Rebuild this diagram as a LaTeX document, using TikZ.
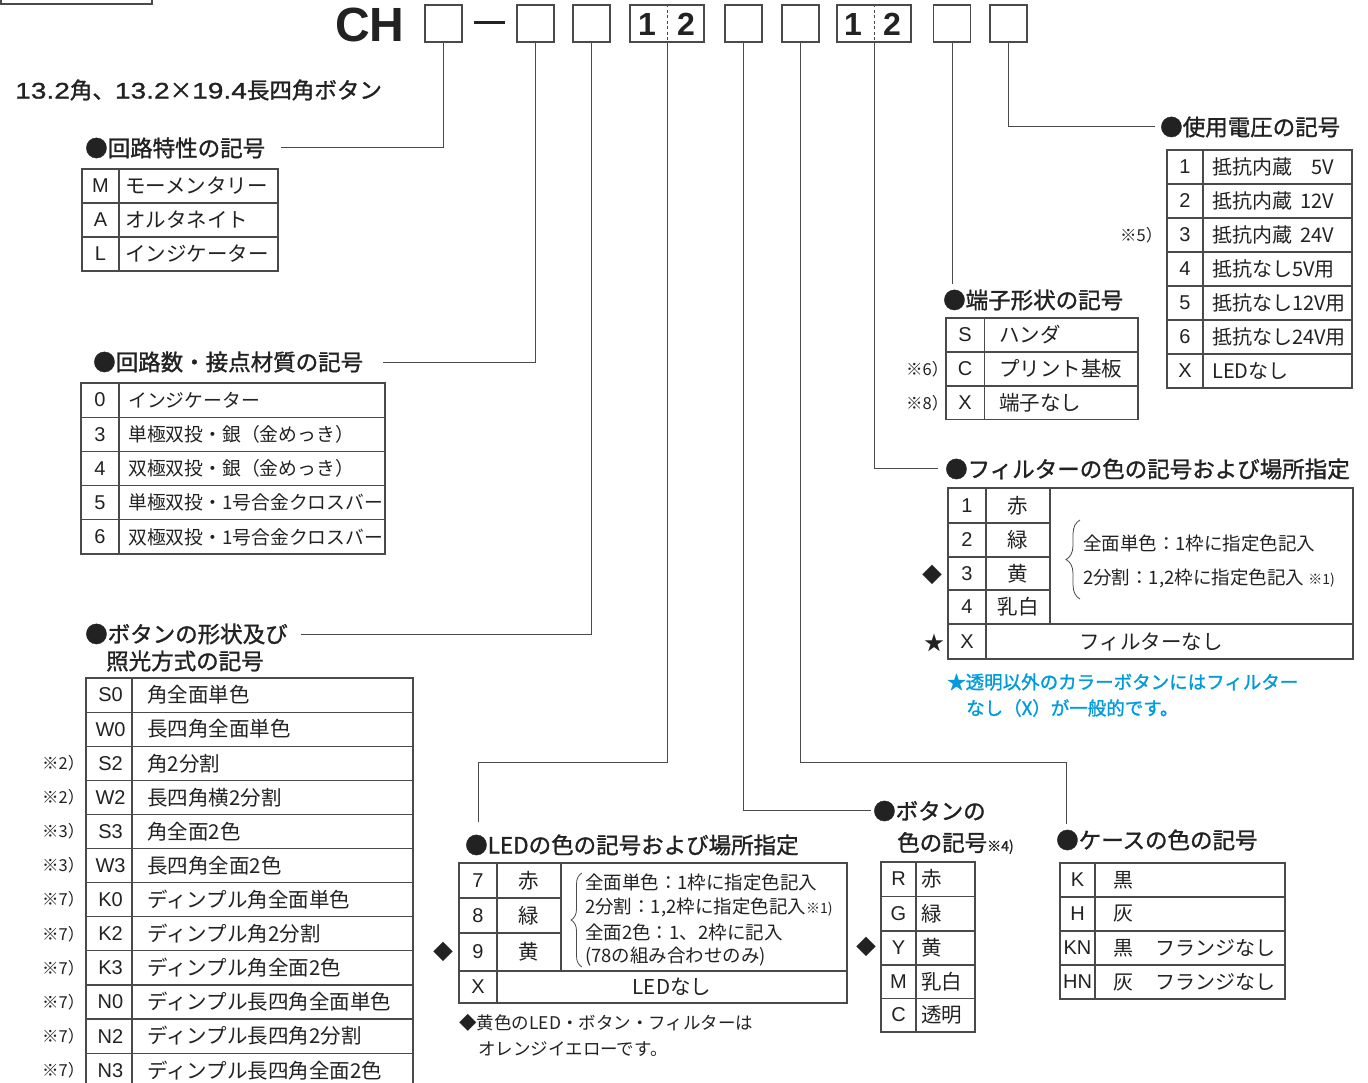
\documentclass[tikz,border=0pt]{standalone}
\usepackage{fontspec}
\setmainfont{Noto Sans CJK JP}
\newfontfamily\lat{Liberation Sans}
\newfontfamily\med[FakeBold=1.3]{Noto Sans CJK JP}
\newfontfamily\latmed[FakeBold=1.0]{Liberation Sans}
\usetikzlibrary{decorations.pathreplacing}
\newcommand\fsz[1]{\fontsize{#1}{#1}\selectfont}
\newcommand\widenum[1]{\scalebox{1.25}[1]{\latmed #1}}
\definecolor{ink}{HTML}{222222}
\definecolor{rulec}{HTML}{4A4A4A}
\definecolor{notecol}{RGB}{0,155,220}
\begin{document}
\begin{tikzpicture}[x=1pt,y=-1pt,
  tbl/.style={draw=rulec,line width=1.2pt},
  conn/.style={draw=rulec,line width=1pt},
  codebox/.style={draw=rulec,line width=1.2pt,minimum width=37pt,minimum height=37pt,inner sep=0},
  cd/.style={inner sep=0,text=ink,font=\lat\fsz{20}},
  tx/.style={inner sep=0,anchor=west,text=ink,font=\fsz{20.5}},
  tc/.style={inner sep=0,text=ink,font=\fsz{20.5}},
  ttl/.style={inner sep=0,anchor=west,text=ink,font=\med\fsz{22.5}},
  nt/.style={inner sep=0,anchor=west,text=ink,font=\fsz{16.5}},
  sm/.style={inner sep=0,anchor=west,text=ink,font=\fsz{18.5}},
  bignum/.style={inner sep=0,text=ink,font=\lat\bfseries\fsz{32}},
  brc/.style={draw=rulec,line width=0.8pt,decorate},
]
\useasboundingbox (0,0) rectangle (1368,1083);
\fill[white] (0,0) rectangle (1368,1083);

% corner box
\draw[tbl] (1,-10) rectangle (152,4);

% header code
\node[inner sep=0,font=\lat\bfseries\fsz{48},text=ink] (ch) at (370,25) {CH};
\node[codebox] (b1) at (443.5,23.5) {};
\node[fill=ink,minimum width=31pt,minimum height=2.4pt,inner sep=0] (dash) at (489.5,22.5) {};
\node[codebox] (b2) at (535.5,23.5) {};
\node[codebox] (b3) at (591.5,23.5) {};
\node[codebox,minimum width=74pt] (b12a) at (667,23.5) {};
\draw[rulec,line width=1pt,dash pattern=on 3pt off 2.5pt] (b12a.north) -- (b12a.south);
\node[bignum] (n1a) at (647,24) {1};
\node[bignum] (n2a) at (686,24) {2};
\node[codebox] (b4) at (743.5,23.5) {};
\node[codebox] (b5) at (800.5,23.5) {};
\node[codebox,minimum width=74pt] (b12b) at (874,23.5) {};
\draw[rulec,line width=1pt,dash pattern=on 3pt off 2.5pt] (b12b.north) -- (b12b.south);
\node[bignum] (n1b) at (853,24) {1};
\node[bignum] (n2b) at (892,24) {2};
\node[codebox] (b6) at (952,23.5) {};
\node[codebox] (b7) at (1008.5,23.5) {};

\node[ttl,font=\med\fsz{22.5}] (hd) at (15,90) {\widenum{13.2}角、\widenum{13.2}×\widenum{19.4}長四角ボタン};

% connectors
\coordinate (e1) at (281,148);
\coordinate (e2) at (383,362);
\coordinate (e3) at (301,634);
\coordinate (k4) at (478,762);
\coordinate (e4) at (478,822);
\coordinate (e5) at (871,810);
\coordinate (k6) at (1066,762);
\coordinate (e6) at (1066,824);
\coordinate (e7) at (938,468);
\coordinate (e8) at (952,284);
\coordinate (e9) at (1155,127);
\draw[conn] (b1.south) |- (e1);
\draw[conn] (b2.south) |- (e2);
\draw[conn] (b3.south) |- (e3);
\draw[conn] (b12a.south) |- (k4) -- (e4);
\draw[conn] (b4.south) |- (e5);
\draw[conn] (b5.south) |- (k6) -- (e6);
\draw[conn] (b12b.south) |- (e7);
\draw[conn] (b6.south) -- (e8);
\draw[conn] (b7.south) |- (e9);

% ---- table 1: circuit characteristic
\node[ttl] (t1) at (85,148) {●回路特性の記号};
\draw[tbl] (82,169) rectangle (278,271);
\draw[tbl] (119,169) -- (119,271);
\foreach \y in {203,237} \draw[tbl] (82,\y) -- (278,\y);
\foreach \c/\t [count=\i] in {M/モーメンタリー,A/オルタネイト,L/インジケーター}{
  \node[cd] (ca\i) at (100.5,{169+34*\i-17}) {\c};
  \node[tx] (da\i) at (125,{169+34*\i-17}) {\t};
}

% ---- table 2: circuits / contact
\node[ttl] (t2) at (93,362) {●回路数・接点材質の記号};
\draw[tbl] (81,383) rectangle (385,554);
\draw[tbl] (119,383) -- (119,554);
\foreach \y in {417.2,451.4,485.6,519.8} \draw[tbl] (81,\y) -- (385,\y);
\foreach \c/\t [count=\i] in {0/インジケーター,3/単極双投・銀（金めっき）,4/双極双投・銀（金めっき）,5/単極双投・1号合金クロスバー,6/双極双投・1号合金クロスバー}{
  \node[cd] (cb\i) at (100,{383+34.2*\i-17.1}) {\c};
  \node[tx,font=\fsz{18.8}] (db\i) at (128,{383+34.2*\i-17.1}) {\t};
}

% ---- table 3: button shape
\node[ttl] (t3a) at (85,634) {●ボタンの形状及び};
\node[ttl] (t3b) at (106,661) {照光方式の記号};
\draw[tbl] (86,678) rectangle (413,1087.2);
\draw[tbl] (132,678) -- (132,1087.2);
\foreach \k in {1,...,11} \draw[tbl] (86,{678+34.1*\k}) -- (413,{678+34.1*\k});
\foreach \c/\t [count=\i] in {S0/角全面単色,W0/長四角全面単色,S2/角2分割,W2/長四角横2分割,S3/角全面2色,W3/長四角全面2色,K0/ディンプル角全面単色,K2/ディンプル角2分割,K3/ディンプル角全面2色,N0/ディンプル長四角全面単色,N2/ディンプル長四角2分割,N3/ディンプル長四角全面2色}{
  \node[cd] (cc\i) at (110.5,{678+34.1*\i-17}) {\c};
  \node[tx] (dc\i) at (147,{678+34.1*\i-17}) {\t};
}
\foreach \n [count=\i from 3] in {2,2,3,3,7,7,7,7,7,7}{
  \node[nt] (nc\i) at (42,{678+34.1*\i-17}) {※\n）};
}

% ---- LED table
\node[ttl] (t4) at (465,845) {●LEDの色の記号および場所指定};
\draw[tbl] (459,863) rectangle (847,1003);
\draw[tbl] (497,863) -- (497,1003);
\draw[tbl] (561,863) -- (561,971);
\draw[tbl] (459,898) -- (561,898);
\draw[tbl] (459,933) -- (561,933);
\draw[tbl] (459,971) -- (847,971);
\node[cd] (cl1) at (478,880.5) {7};
\node[cd] (cl2) at (478,915.5) {8};
\node[cd] (cl3) at (478,952) {9};
\node[cd] (cl4) at (478,987) {X};
\node[tc] (dl1) at (529,880.5) {赤};
\node[tc] (dl2) at (529,915.5) {緑};
\node[tc] (dl3) at (529,952) {黄};
\node[tc] (dl4) at (672,987) {LEDなし};
\draw[brc,decoration={brace,amplitude=11pt}] (582,967) -- (582,873);
\node[sm] (ll1) at (585,882) {全面単色：1枠に指定色記入};
\node[sm] (ll2) at (585,907) {2分割：1,2枠に指定色記入{\fsz{14}※1)}};
\node[sm] (ll3) at (585,932) {全面2色：1、2枠に記入};
\node[sm] (ll4) at (585,957) {(78の組み合わせのみ)};
\node[inner sep=0,text=ink,font=\fsz{20}] (dmL) at (443,952) {◆};
\node[sm,font=\fsz{17.5}] (lnote1) at (459,1023) {◆黄色のLED・ボタン・フィルターは};
\node[sm,font=\fsz{17.5}] (lnote2) at (478,1049) {オレンジイエローです。};

% ---- button colour
\node[ttl] (t5a) at (873,811) {●ボタンの};
\node[ttl] (t5b) at (897,843) {色の記号{\fsz{14}※4)}};
\draw[tbl] (881,862) rectangle (975,1032);
\draw[tbl] (916,862) -- (916,1032);
\foreach \y in {896.5,931,965,998.5} \draw[tbl] (881,\y) -- (975,\y);
\foreach \c/\t/\y [count=\i] in {R/赤/879,G/緑/914,Y/黄/948,M/乳白/982,C/透明/1015}{
  \node[cd] (cd\i) at (898.5,\y) {\c};
  \node[tx] (dd\i) at (921,\y) {\t};
}
\node[inner sep=0,text=ink,font=\fsz{20}] (dmB) at (866,947) {◆};

% ---- case colour
\node[ttl] (t6) at (1056,840) {●ケースの色の記号};
\draw[tbl] (1060,863) rectangle (1285,999);
\draw[tbl] (1095,863) -- (1095,999);
\foreach \y in {897,931,965} \draw[tbl] (1060,\y) -- (1285,\y);
\foreach \c/\t/\y [count=\i] in {K/黒/880,H/灰/914,KN/黒\hspace{1.1em}フランジなし/948,HN/灰\hspace{1.1em}フランジなし/982}{
  \node[cd] (ce\i) at (1077.5,\y) {\c};
  \node[tx,font=\fsz{20}] (de\i) at (1113,\y) {\t};
}

% ---- terminal
\node[ttl] (t7) at (943,300) {●端子形状の記号};
\draw[tbl] (946,318) rectangle (1138,419.5);
\draw[tbl] (984.5,318) -- (984.5,419.5);
\foreach \y in {352,386} \draw[tbl] (946,\y) -- (1138,\y);
\foreach \c/\t/\y [count=\i] in {S/ハンダ/335,C/プリント基板/369,X/端子なし/403}{
  \node[cd] (cf\i) at (965,\y) {\c};
  \node[tx] (df\i) at (999,\y) {\t};
}
\node[nt] (nf1) at (906,369) {※6）};
\node[nt] (nf2) at (906,403) {※8）};

% ---- voltage
\node[ttl] (t8) at (1160,127) {●使用電圧の記号};
\draw[tbl] (1167,150) rectangle (1352,388);
\draw[tbl] (1203,150) -- (1203,388);
\foreach \k in {1,...,6} \draw[tbl] (1167,{150+34*\k}) -- (1352,{150+34*\k});
\foreach \c/\t [count=\i] in {1/抵抗内蔵\hbox to 2.1em{\hfil 5V},2/抵抗内蔵\hbox to 2.1em{\hfil 12V},3/抵抗内蔵\hbox to 2.1em{\hfil 24V},4/抵抗なし5V用,5/抵抗なし12V用,6/抵抗なし24V用,X/LEDなし}{
  \node[cd] (cg\i) at (1185,{150+34*\i-17}) {\c};
  \node[tx,font=\fsz{20}] (dg\i) at (1212,{150+34*\i-17}) {\t};
}
\node[nt] (ng) at (1120,235) {※5）};

% ---- filter
\node[ttl] (t9) at (945,469) {●フィルターの色の記号および場所指定};
\draw[tbl] (948,488) rectangle (1353,659);
\draw[tbl] (986,488) -- (986,659);
\draw[tbl] (1050,488) -- (1050,624);
\foreach \y in {523,557,590} \draw[tbl] (948,\y) -- (1050,\y);
\draw[tbl] (948,624) -- (1353,624);
\foreach \c/\t/\y [count=\i] in {1/赤/505.5,2/緑/540,3/黄/573.5,4/乳白/607}{
  \node[cd] (ch\i) at (967,\y) {\c};
  \node[tc] (dh\i) at (1018,\y) {\t};
}
\node[cd] (ch5) at (967,641.5) {X};
\node[tc] (dh5) at (1151,642) {フィルターなし};
\draw[brc,decoration={brace,amplitude=14pt}] (1080,599) -- (1080,520);
\node[sm] (fl1) at (1083,543) {全面単色：1枠に指定色記入};
\node[sm] (fl2) at (1083,578) {2分割：1,2枠に指定色記入 {\fsz{14}※1)}};
\node[inner sep=0,text=ink,font=\fsz{20}] (dmF) at (932,575) {◆};
\node[inner sep=0,text=ink,font=\fsz{20}] (stF) at (934,643) {★};
\node[sm,text=notecol,font=\med\fsz{18.5}] (bn1) at (947,682) {★透明以外のカラーボタンにはフィルター};
\node[sm,text=notecol,font=\med\fsz{18.5}] (bn2) at (966,708) {なし（X）が一般的です。};
\end{tikzpicture}
\end{document}
